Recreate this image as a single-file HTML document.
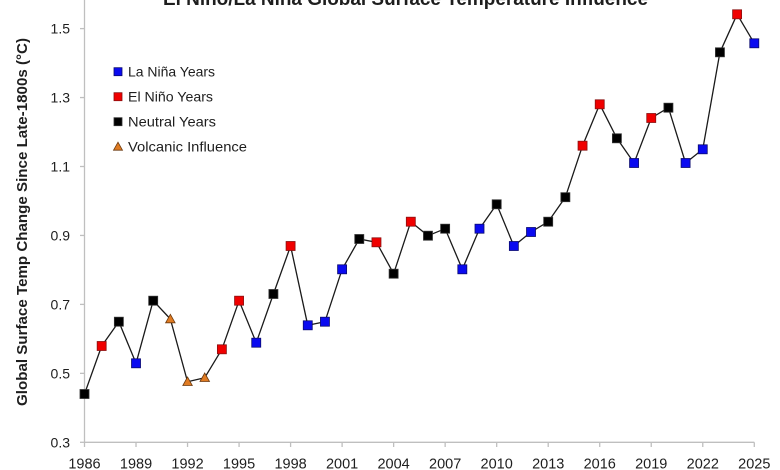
<!DOCTYPE html>
<html><head><meta charset="utf-8"><style>
html,body{margin:0;padding:0;background:#fff;}
svg{display:block;}
text{font-family:"Liberation Sans",Arial,sans-serif;fill:#1e1e1e;}
</style></head><body>
<svg width="780" height="470" viewBox="0 0 780 470" xmlns="http://www.w3.org/2000/svg">
<rect width="780" height="470" fill="#fff"/>
<!-- title -->
<text x="405.5" y="5" font-size="19" font-weight="bold" text-anchor="middle" textLength="485" lengthAdjust="spacingAndGlyphs">El Niño/La Niña Global Surface Temperature Influence</text>
<!-- y label -->
<text transform="translate(27,222) rotate(-90)" font-size="15" font-weight="bold" text-anchor="middle" textLength="368" lengthAdjust="spacingAndGlyphs">Global Surface Temp Change Since Late-1800s (°C)</text>
<!-- axes -->
<g stroke="#bfbfbf" stroke-width="1.3" fill="none">
<line x1="84.5" y1="0" x2="84.5" y2="442.3"/>
<line x1="84.5" y1="442.3" x2="754.3" y2="442.3"/>
<line x1="80" y1="442.3" x2="84.5" y2="442.3"/>
<line x1="80" y1="373.35" x2="84.5" y2="373.35"/>
<line x1="80" y1="304.4" x2="84.5" y2="304.4"/>
<line x1="80" y1="235.45" x2="84.5" y2="235.45"/>
<line x1="80" y1="166.5" x2="84.5" y2="166.5"/>
<line x1="80" y1="97.55" x2="84.5" y2="97.55"/>
<line x1="80" y1="28.6" x2="84.5" y2="28.6"/>
<line x1="84.5" y1="442.3" x2="84.5" y2="447"/>
<line x1="136.02" y1="442.3" x2="136.02" y2="447"/>
<line x1="187.54" y1="442.3" x2="187.54" y2="447"/>
<line x1="239.07" y1="442.3" x2="239.07" y2="447"/>
<line x1="290.59" y1="442.3" x2="290.59" y2="447"/>
<line x1="342.11" y1="442.3" x2="342.11" y2="447"/>
<line x1="393.63" y1="442.3" x2="393.63" y2="447"/>
<line x1="445.15" y1="442.3" x2="445.15" y2="447"/>
<line x1="496.68" y1="442.3" x2="496.68" y2="447"/>
<line x1="548.2" y1="442.3" x2="548.2" y2="447"/>
<line x1="599.72" y1="442.3" x2="599.72" y2="447"/>
<line x1="651.24" y1="442.3" x2="651.24" y2="447"/>
<line x1="702.76" y1="442.3" x2="702.76" y2="447"/>
<line x1="754.29" y1="442.3" x2="754.29" y2="447"/>
</g>
<!-- y tick labels -->
<g font-size="14" text-anchor="end">
<text x="70" y="447.3">0.3</text>
<text x="70" y="378.35">0.5</text>
<text x="70" y="309.4">0.7</text>
<text x="70" y="240.45">0.9</text>
<text x="70" y="171.5">1.1</text>
<text x="70" y="102.55">1.3</text>
<text x="70" y="33.6">1.5</text>
</g>
<!-- x tick labels -->
<g font-size="14.5" text-anchor="middle">
<text x="84.5" y="468.7">1986</text>
<text x="136.02" y="468.7">1989</text>
<text x="187.54" y="468.7">1992</text>
<text x="239.07" y="468.7">1995</text>
<text x="290.59" y="468.7">1998</text>
<text x="342.11" y="468.7">2001</text>
<text x="393.63" y="468.7">2004</text>
<text x="445.15" y="468.7">2007</text>
<text x="496.68" y="468.7">2010</text>
<text x="548.2" y="468.7">2013</text>
<text x="599.72" y="468.7">2016</text>
<text x="651.24" y="468.7">2019</text>
<text x="702.76" y="468.7">2022</text>
<text x="754.29" y="468.7">2025</text>
</g>
<!-- data line -->
<polyline fill="none" stroke="#1a1a1a" stroke-width="1.3" stroke-linejoin="round" points="
84.5,394 101.67,346 118.85,321.7 136.02,363.3 153.2,300.7 170.37,319 187.54,381.7 204.72,377.7 221.89,349.3 239.07,300.7
256.24,342.7 273.41,294 290.59,246 307.76,325.3 324.94,321.7 342.11,269.3 359.28,239 376.46,242.3 393.63,273.7 410.81,221.7
427.98,235.7 445.15,228.7 462.33,269.3 479.5,228.7 496.68,204.3 513.85,246 531.02,232 548.2,221.7 565.37,197.2 582.55,145.7
599.72,104.3 616.89,138.3 634.07,163 651.24,118 668.42,107.7 685.59,163 702.76,149.3 719.94,52.3 737.11,14.3 754.29,43.3"/>
<!-- markers: neutral -->
<g fill="#000" stroke="#333" stroke-width="0.8">
<rect x="80" y="389.5" width="9" height="9"/>
<rect x="114.35" y="317.2" width="9" height="9"/>
<rect x="148.7" y="296.2" width="9" height="9"/>
<rect x="268.91" y="289.5" width="9" height="9"/>
<rect x="354.78" y="234.5" width="9" height="9"/>
<rect x="389.13" y="269.2" width="9" height="9"/>
<rect x="423.48" y="231.2" width="9" height="9"/>
<rect x="440.65" y="224.2" width="9" height="9"/>
<rect x="492.18" y="199.8" width="9" height="9"/>
<rect x="543.7" y="217.2" width="9" height="9"/>
<rect x="560.87" y="192.7" width="9" height="9"/>
<rect x="612.39" y="133.8" width="9" height="9"/>
<rect x="663.92" y="103.2" width="9" height="9"/>
<rect x="715.44" y="47.8" width="9" height="9"/>
<rect x="114" y="117.7" width="8" height="8"/>
</g>
<!-- El Nino -->
<g fill="#f00000" stroke="#8a1010" stroke-width="0.8">
<rect x="97.17" y="341.5" width="9" height="9"/>
<rect x="217.39" y="344.8" width="9" height="9"/>
<rect x="234.57" y="296.2" width="9" height="9"/>
<rect x="286.09" y="241.5" width="9" height="9"/>
<rect x="371.96" y="237.8" width="9" height="9"/>
<rect x="406.31" y="217.2" width="9" height="9"/>
<rect x="578.05" y="141.2" width="9" height="9"/>
<rect x="595.22" y="99.8" width="9" height="9"/>
<rect x="646.74" y="113.5" width="9" height="9"/>
<rect x="732.61" y="9.8" width="9" height="9"/>
<rect x="114" y="92.7" width="8" height="8"/>
</g>
<!-- La Nina -->
<g fill="#0a0af0" stroke="#0a0a70" stroke-width="0.8">
<rect x="131.52" y="358.8" width="9" height="9"/>
<rect x="251.74" y="338.2" width="9" height="9"/>
<rect x="303.26" y="320.8" width="9" height="9"/>
<rect x="320.44" y="317.2" width="9" height="9"/>
<rect x="337.61" y="264.8" width="9" height="9"/>
<rect x="457.83" y="264.8" width="9" height="9"/>
<rect x="475" y="224.2" width="9" height="9"/>
<rect x="509.35" y="241.5" width="9" height="9"/>
<rect x="526.52" y="227.5" width="9" height="9"/>
<rect x="629.57" y="158.5" width="9" height="9"/>
<rect x="681.09" y="158.5" width="9" height="9"/>
<rect x="698.26" y="144.8" width="9" height="9"/>
<rect x="749.79" y="38.8" width="9" height="9"/>
<rect x="114" y="67.7" width="8" height="8"/>
</g>
<!-- volcanic -->
<g fill="#e07b22" stroke="#6b3a10" stroke-width="0.8">
<polygon points="170.37,314.3 165.6,322.8 175.1,322.8"/>
<polygon points="187.54,377 182.8,385.5 192.3,385.5"/>
<polygon points="204.72,373 200,381.5 209.5,381.5"/>
<polygon points="118,142.2 113.5,150.2 122.5,150.2"/>
</g>
<!-- legend text -->
<g font-size="14">
<text x="128" y="76.7" textLength="87" lengthAdjust="spacingAndGlyphs">La Niña Years</text>
<text x="128" y="101.7" textLength="85" lengthAdjust="spacingAndGlyphs">El Niño Years</text>
<text x="128" y="126.7" textLength="88" lengthAdjust="spacingAndGlyphs">Neutral Years</text>
<text x="128" y="151.7" textLength="119" lengthAdjust="spacingAndGlyphs">Volcanic Influence</text>
</g>
</svg>
</body></html>
